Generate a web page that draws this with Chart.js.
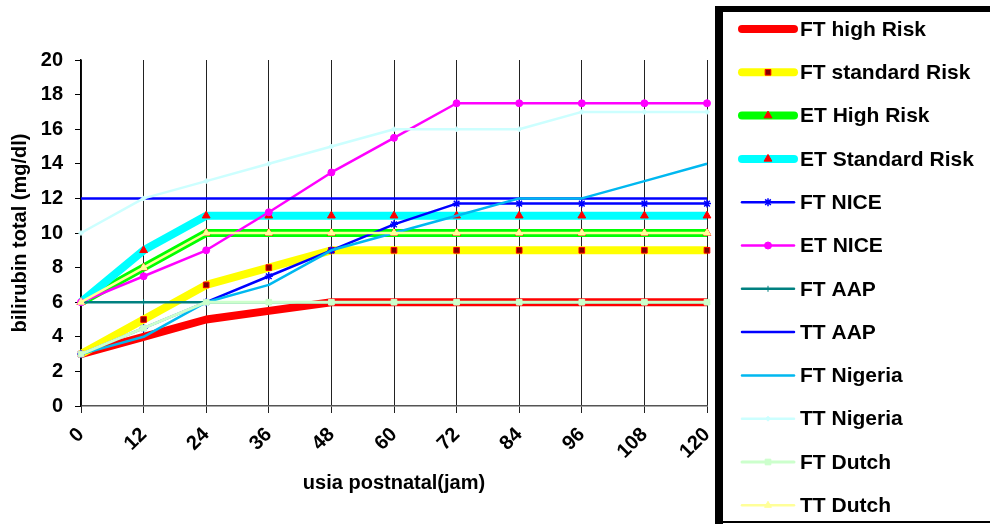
<!DOCTYPE html>
<html>
<head>
<meta charset="utf-8">
<style>
  html, body { margin: 0; padding: 0; background: #fff; }
  #chart { display: block; }
</style>
<script src="https://cdn.jsdelivr.net/npm/chart.js@4/dist/chart.umd.min.js"></script>
</head>
<body>
<canvas id="chart" width="990" height="524"></canvas>
<script>
// usia postnatal (jam)
const hours = ['0', '12', '24', '36', '48', '60', '72', '84', '96', '108', '120'];
const yTicks = [0, 2, 4, 6, 8, 10, 12, 14, 16, 18, 20];

// bilirubin total (mg/dl) per series
const ftHighRisk     = [3, 4, 5, 5.5, 6, 6, 6, 6, 6, 6, 6];
const ftStandardRisk = [3, 5, 7, 8, 9, 9, 9, 9, 9, 9, 9];
const etHighRisk     = [6, 8, 10, 10, 10, 10, 10, 10, 10, 10, 10];
const etStandardRisk = [6, 9, 11, 11, 11, 11, 11, 11, 11, 11, 11];
const ftNice         = [3, 4.5, 6, 7.5, 9, 10.5, 11.7, 11.7, 11.7, 11.7, 11.7];
const etNice         = [6, 7.5, 9, 11.2, 13.5, 15.5, 17.5, 17.5, 17.5, 17.5, 17.5];
const ftAap          = [6, 6, 6, 6, 6, 6, 6, 6, 6, 6, 6];
const ttAap          = [12, 12, 12, 12, 12, 12, 12, 12, 12, 12, 12];
const ftNigeria      = [3, 4, 6, 7, 9, 10, 11, 12, 12, 13, 14];
const ttNigeria      = [10, 12, 13, 14, 15, 16, 16, 16, 17, 17, 17];
const ftDutch        = [3, 4.5, 6, 6, 6, 6, 6, 6, 6, 6, 6];
const ttDutch        = [6, 8, 10, 10, 10, 10, 10, 10, 10, 10, 10];

const FONT = '"Liberation Sans", Arial, sans-serif';
Chart.defaults.font.family = FONT;
Chart.defaults.color = '#000';

const makeSeries = (label, data, color, width, marker = {}) => ({
    label,
    data,
    borderColor: color,
    backgroundColor: color,
    borderWidth: width,
    borderJoinStyle: 'round',
    pointStyle: marker.style || 'circle',
    pointRadius: marker.radius || 0,
    pointBackgroundColor: marker.fill || color,
    pointBorderColor: marker.stroke || marker.fill || color,
    pointBorderWidth: marker.strokeWidth || 1,
    tension: 0,
});

const datasets = [
    makeSeries('FT high Risk', ftHighRisk, '#FF0000', 8),
    makeSeries('FT standard Risk', ftStandardRisk, '#FFFF00', 8, { style: 'rect', radius: 4, fill: '#800000', stroke: '#FF0000' }),
    makeSeries('ET High Risk', etHighRisk, '#00FF00', 8, { style: 'triangle', radius: 4.5, fill: '#FF0000' }),
    makeSeries('ET Standard Risk', etStandardRisk, '#00FFFF', 8, { style: 'triangle', radius: 4.5, fill: '#FF0000' }),
    makeSeries('FT NICE', ftNice, '#0000FF', 2.5, { style: 'star', radius: 4, fill: '#0000FF', strokeWidth: 1.5 }),
    makeSeries('ET NICE', etNice, '#FF00FF', 2.5, { style: 'circle', radius: 3.5 }),
    makeSeries('FT AAP', ftAap, '#008080', 2.5, { style: 'cross', radius: 3 }),
    makeSeries('TT AAP', ttAap, '#0000FF', 2.5),
    makeSeries('FT Nigeria', ftNigeria, '#00B8F0', 2.5),
    makeSeries('TT Nigeria', ttNigeria, '#CCFFFF', 2.5, { style: 'rectRot', radius: 2.5 }),
    makeSeries('FT Dutch', ftDutch, '#CCFFCC', 3, { style: 'rect', radius: 4 }),
    makeSeries('TT Dutch', ttDutch, '#FFFF99', 2.5, { style: 'triangle', radius: 4 }),
];
// later series are painted on top, like the original
datasets.forEach((ds, i) => { ds.order = -i; });

const legendBox = {
    id: 'legendBox',
    afterDraw(chart) {
        const ctx = chart.ctx;
        ctx.save();
        ctx.fillStyle = '#000';
        ctx.fillRect(715, 6, 275, 6);
        ctx.fillRect(715, 6, 8, 518);
        ctx.fillRect(715, 521, 275, 2);

        chart.data.datasets.forEach((ds, i) => {
            const y = 29 + i * 43.3;
            ctx.strokeStyle = ds.borderColor;
            ctx.lineWidth = ds.borderWidth;
            ctx.lineCap = 'round';
            ctx.beginPath();
            ctx.moveTo(742, y);
            ctx.lineTo(794, y);
            ctx.stroke();

            if (ds.pointRadius > 0) {
                ctx.fillStyle = ds.pointBackgroundColor;
                ctx.strokeStyle = ds.pointBorderColor;
                ctx.lineWidth = ds.pointBorderWidth;
                ctx.lineCap = 'butt';
                Chart.helpers.drawPoint(ctx, {
                    pointStyle: ds.pointStyle,
                    radius: ds.pointRadius,
                    borderWidth: ds.pointBorderWidth,
                    rotation: 0,
                }, 768, y);
            }

            ctx.fillStyle = '#000';
            ctx.font = `bold 21px ${FONT}`;
            ctx.textAlign = 'left';
            ctx.textBaseline = 'middle';
            ctx.fillText(ds.label, 800, y + 1);
        });
        ctx.restore();
    },
};

new Chart(document.getElementById('chart'), {
    type: 'line',
    data: { labels: hours, datasets },
    plugins: [legendBox],
    options: {
        responsive: false,
        animation: false,
        devicePixelRatio: 1,
        events: [],
        layout: { padding: { top: 60, right: 283, bottom: 0, left: 0 } },
        plugins: {
            legend: { display: false },
            tooltip: { enabled: false },
        },
        scales: {
            x: {
                type: 'category',
                offset: false,
                grid: { color: '#222', lineWidth: 1, tickLength: 7 },
                border: { color: '#555', width: 1.5 },
                ticks: {
                    autoSkip: false,
                    minRotation: 45,
                    maxRotation: 45,
                    padding: 10,
                    color: '#000',
                    font: { size: 20, weight: 'bold' },
                },
                title: {
                    display: true,
                    text: 'usia postnatal(jam)',
                    color: '#000',
                    font: { size: 20, weight: 'bold' },
                    padding: { top: 4, bottom: 29 },
                },
                afterFit: (scale) => { scale.height = 118; },
            },
            y: {
                min: 0,
                max: 20,
                afterBuildTicks: (scale) => { scale.ticks = yTicks.map((v) => ({ value: v })); },
                grid: { drawOnChartArea: false, color: '#000', tickLength: 6 },
                border: { color: '#000', width: 1.5 },
                ticks: {
                    padding: 12,
                    color: '#000',
                    font: { size: 20, weight: 'bold' },
                },
                title: {
                    display: true,
                    text: 'bilirubin total (mg/dl)',
                    color: '#000',
                    font: { size: 20, weight: 'bold' },
                    padding: { top: 8, bottom: 4 },
                },
                afterFit: (scale) => { scale.width = 81; },
            },
        },
    },
});
</script>
</body>
</html>
